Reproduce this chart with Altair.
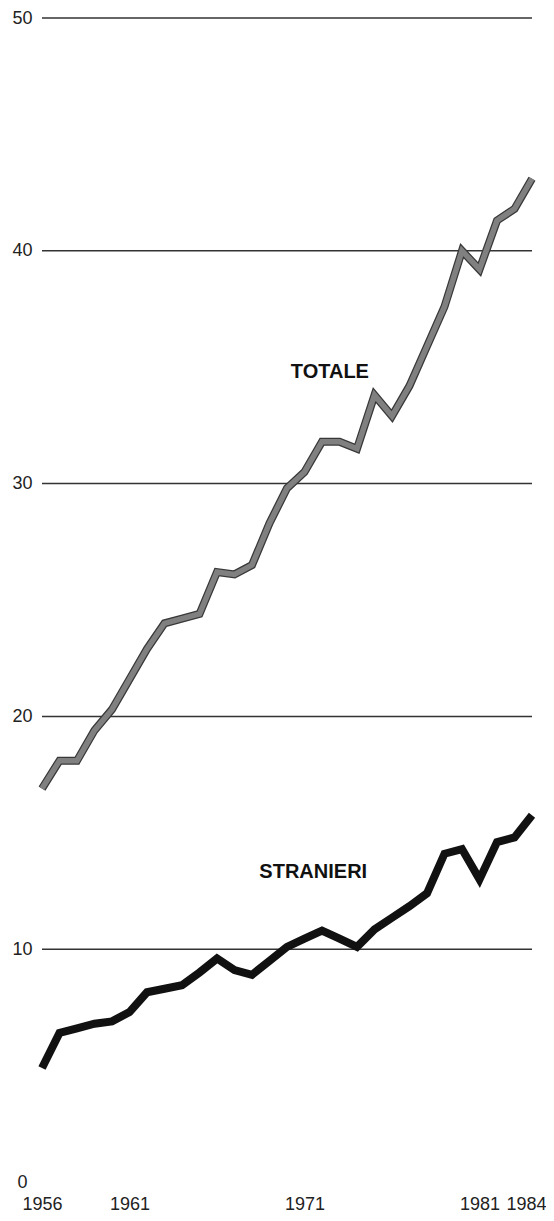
import altair as alt
import pandas as pd

years = list(range(1956, 1985))
totale = [16.9, 18.1, 18.1, 19.4, 20.3, 21.6, 22.9, 24.0, 24.2, 24.4, 26.2, 26.1, 26.5,
          28.3, 29.8, 30.5, 31.8, 31.8, 31.5, 33.8, 32.9, 34.2, 35.9, 37.6, 40.0, 39.2,
          41.3, 41.8, 43.1]
stranieri = [4.9, 6.4, 6.6, 6.8, 6.9, 7.3, 8.15, 8.3, 8.45, 9.0, 9.6, 9.1, 8.9,
             9.5, 10.1, 10.45, 10.8, 10.45, 10.1, 10.85, 11.35, 11.85, 12.4, 14.1, 14.3, 13.0,
             14.6, 14.8, 15.75]
grid_values = [10, 20, 30, 40, 50]
y_ticks = [0, 10, 20, 30, 40, 50]
x_ticks = [1956, 1961, 1971, 1981, 1984]
label_text = ["TOTALE", "STRANIERI"]
label_year = [1972.45, 1971.5]
label_value = [34.8, 13.3]

df = pd.DataFrame({"year": years, "totale": totale, "stranieri": stranieri})
grid_df = pd.DataFrame({"v": grid_values})
lab_df = pd.DataFrame({"text": label_text, "year": label_year, "value": label_value})

FONT = "Liberation Sans"

xscale = alt.Scale(domain=[1956, 1984], nice=False, zero=False)
yscale = alt.Scale(domain=[0, 50], nice=False)

xaxis = alt.Axis(values=x_ticks, format="d", grid=False, domain=False, ticks=False,
                 tickSize=0, labelPadding=27, labelBaseline="alphabetic",
                 labelAlign={"condition": {"test": "datum.value == 1984", "value": "right"},
                             "value": "center"},
                 labelOffset={"condition": {"test": "datum.value == 1984", "value": 14},
                              "value": 0},
                 labelFontSize=18, labelFont=FONT,
                 labelColor="#222", title=None, labelFlush=False)
yaxis = alt.Axis(values=y_ticks, grid=False, domain=False, ticks=False, tickSize=0,
                 labelAlign="center", labelPadding=20, labelFontSize=18, labelFont=FONT,
                 labelColor="#222", title=None)

base = alt.Chart(df)

rules = alt.Chart(grid_df).mark_rule(color="#333", strokeWidth=1.5).encode(
    y=alt.Y("v:Q", scale=yscale, axis=yaxis)
)

tot_outline = base.mark_line(color="#383838", strokeWidth=8, strokeJoin="miter").encode(
    x=alt.X("year:Q", scale=xscale, axis=xaxis),
    y=alt.Y("totale:Q", scale=yscale),
)
tot_fill = base.mark_line(color="#808080", strokeWidth=5.5, strokeJoin="miter").encode(
    x=alt.X("year:Q", scale=xscale),
    y=alt.Y("totale:Q", scale=yscale),
)
stra = base.mark_line(color="#111", strokeWidth=8, strokeJoin="miter").encode(
    x=alt.X("year:Q", scale=xscale),
    y=alt.Y("stranieri:Q", scale=yscale),
)

labels = alt.Chart(lab_df).mark_text(font=FONT, fontSize=20, fontWeight="bold",
                                     color="#111", align="center", baseline="middle").encode(
    x=alt.X("year:Q", scale=xscale),
    y=alt.Y("value:Q", scale=yscale),
    text="text:N",
)

chart = alt.layer(rules, tot_outline, tot_fill, stra, labels).properties(
    width=490, height=1164,
    padding={"left": 34, "top": 10, "right": 14, "bottom": 31},
    autosize=alt.AutoSizeParams(type="none"),
    background="white",
).configure_view(stroke=None, strokeWidth=0)

chart.save("out.html", embed_options={"renderer": "svg", "actions": False})
